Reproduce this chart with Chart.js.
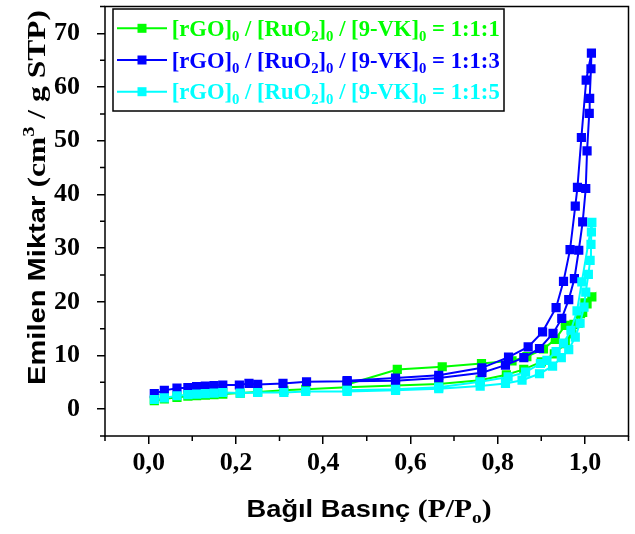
<!DOCTYPE html>
<html>
<head>
<meta charset="utf-8">
<script src="https://cdn.jsdelivr.net/npm/chart.js@4/dist/chart.umd.min.js"></script>
<style>
html,body{margin:0;padding:0;background:#fff;}
#wrap{width:635px;height:534px;position:relative;}
</style>
</head>
<body>
<div id="wrap"><canvas id="c" width="635" height="534"></canvas></div>
<script>
// ---- Data ----
// Series 1:1:1 (green)
const p111 = [0.013,0.036,0.065,0.09,0.11,0.13,0.15,0.17,0.21,0.25,0.31,0.36,0.455,0.566,0.665,0.76,0.82,0.86,0.9,0.93,0.955,0.97,0.985,0.995,1.005,1.016,
              1.0,0.99,0.975,0.955,0.932,0.905,0.867,0.833,0.763,0.673,0.57,0.455];
const v111 = [1.6,1.9,2.2,2.4,2.5,2.6,2.7,2.8,3.0,3.2,3.5,3.7,4.1,4.4,4.7,5.4,6.4,7.4,8.8,10.3,12.2,14.0,16.0,18.0,19.6,20.9,
              19.8,17.8,15.8,15.6,13.0,11.2,9.8,9.0,8.5,7.9,7.4,4.6];
// Series 1:1:3 (blue)
const p113 = [0.013,0.036,0.065,0.09,0.11,0.13,0.15,0.17,0.208,0.23,0.25,0.308,0.362,0.455,0.566,0.665,0.764,0.818,0.86,0.896,0.927,0.947,0.963,0.976,0.986,0.995,1.002,1.005,1.010,1.011,1.014,1.015,
              1.003,0.992,0.983,0.978,0.966,0.951,0.934,0.903,0.870,0.825,0.764,0.665,0.566,0.455];
const v113 = [2.9,3.5,3.9,4.0,4.2,4.3,4.4,4.5,4.5,4.8,4.6,4.8,5.1,5.2,5.3,5.8,6.8,8.2,9.6,11.3,14.1,16.9,20.4,24.3,29.6,34.9,41.1,48.1,55.1,57.9,63.4,66.3,
              61.3,50.6,41.3,37.8,29.7,23.8,18.9,14.4,11.6,9.7,7.7,6.3,5.8,5.3];
// Series 1:1:5 (cyan)
const p115 = [0.013,0.036,0.065,0.09,0.11,0.13,0.15,0.17,0.21,0.25,0.31,0.36,0.455,0.566,0.665,0.76,0.818,0.856,0.896,0.926,0.946,0.963,0.978,0.989,0.998,1.002,1.008,1.012,1.014,1.015,1.016,
              0.993,0.982,0.968,0.951,0.934,0.913,0.898,0.864,0.824,0.76,0.665,0.566,0.455];
const v115 = [1.8,2.1,2.5,2.7,2.8,2.9,3.0,3.1,3.0,3.1,3.1,3.3,3.3,3.5,3.8,4.3,4.8,5.4,6.6,8.0,9.6,11.1,13.4,16.0,19.0,21.8,25.1,27.7,30.7,33.0,34.8,
              23.7,18.3,14.7,12.3,10.7,9.1,8.5,6.9,6.0,5.1,4.1,3.7,3.5];

const xTicks = [0,0.2,0.4,0.6,0.8,1.0];
const yTicks = [0,10,20,30,40,50,60,70];
const xMinor = [-0.1,0.1,0.3,0.5,0.7,0.9,1.1];
const yMinor = [-5,5,15,25,35,45,55,65,75];
const seriesRatios = ['1:1:1','1:1:3','1:1:5'];
const seriesColors = ['#00ff00','#0000ff','#00ffff'];

const SERIF = '"Liberation Serif","Times New Roman",serif';
const SANS = '"Liberation Sans",Arial,sans-serif';

function pts(xs, ys){ return xs.map((x,i)=>({x:x, y:ys[i]})); }

function drawRich(ctx, parts, startX, baseline, targetW, align){
  let total = 0;
  const ws = parts.map(p=>{ ctx.font = p.font; const w = ctx.measureText(p.t).width; total += w; return w; });
  const s = targetW ? targetW/total : 1;
  const W = total*s;
  let x0 = align==='center' ? startX - W/2 : startX;
  ctx.save();
  ctx.translate(x0, baseline);
  ctx.scale(s,1);
  ctx.textBaseline = 'alphabetic';
  ctx.textAlign = 'left';
  let x = 0;
  parts.forEach((p,i)=>{
    ctx.font = p.font; ctx.fillStyle = p.color || '#000';
    ctx.fillText(p.t, x, p.dy||0);
    x += ws[i];
  });
  ctx.restore();
}

const decor = {
  id:'decor',
  afterDraw(chart){
    const ctx = chart.ctx, a = chart.chartArea;
    const xs = chart.scales.x, ys = chart.scales.y;
    ctx.save();
    ctx.strokeStyle = '#000'; ctx.lineWidth = 1.5;
    ctx.strokeRect(a.left, a.top, a.right-a.left, a.bottom-a.top);
    // minor ticks
    ctx.beginPath();
    xMinor.forEach(v=>{ const px = xs.getPixelForValue(v); ctx.moveTo(px, a.bottom); ctx.lineTo(px, a.bottom+5); });
    yMinor.forEach(v=>{ const py = ys.getPixelForValue(v); ctx.moveTo(a.left, py); ctx.lineTo(a.left-5, py); });
    ctx.stroke();

    // legend
    ctx.fillStyle = '#fff';
    ctx.fillRect(113, 9, 391, 102);
    ctx.lineWidth = 1.5; ctx.strokeStyle = '#000';
    ctx.strokeRect(113, 9, 391, 102);
    const rows = [28.3, 60, 91.7];
    seriesRatios.forEach((r,i)=>{
      const y = rows[i], col = seriesColors[i];
      ctx.strokeStyle = col; ctx.lineWidth = 2;
      ctx.beginPath(); ctx.moveTo(117,y); ctx.lineTo(167,y); ctx.stroke();
      ctx.fillStyle = col; ctx.fillRect(142-4.5, y-4.5, 9, 9);
      const f = 'bold 23px '+SERIF, fs = 'bold 15px '+SERIF;
      drawRich(ctx, [
        {t:'[rGO]', font:f, color:col},
        {t:'0', font:fs, color:col, dy:5},
        {t:' / [RuO', font:f, color:col},
        {t:'2', font:fs, color:col, dy:5},
        {t:']', font:f, color:col},
        {t:'0', font:fs, color:col, dy:5},
        {t:' / [9-VK]', font:f, color:col},
        {t:'0', font:fs, color:col, dy:5},
        {t:' = '+r, font:f, color:col}
      ], 171.7, y+7.5, 328, 'left');
    });

    // x title
    drawRich(ctx, [
      {t:'Bağıl Basınç ', font:'bold 24px '+SANS},
      {t:'(P/P', font:'bold 26px '+SERIF},
      {t:'o', font:'bold 17px '+SERIF, dy:6},
      {t:')', font:'bold 26px '+SERIF}
    ], 369, 517, 245, 'center');

    // y title
    ctx.save();
    ctx.translate(45, 197.5);
    ctx.rotate(-Math.PI/2);
    drawRich(ctx, [
      {t:'Emilen Miktar ', font:'bold 24px '+SANS},
      {t:'(cm', font:'bold 26px '+SERIF},
      {t:'3', font:'bold 17px '+SERIF, dy:-11},
      {t:' / g STP)', font:'bold 26px '+SERIF}
    ], 0, 0, 375, 'center');
    ctx.restore();
    ctx.restore();
  }
};

function ds(label, xs, ys, color, order){
  return {
    label: label, data: pts(xs, ys), showLine: true, order: order,
    borderColor: color, backgroundColor: color, borderWidth: 2,
    pointStyle: 'rect', pointRadius: 6.5, pointBorderWidth: 0,
    pointBackgroundColor: color, tension: 0
  };
}

new Chart(document.getElementById('c'), {
  type: 'scatter',
  data: { datasets: [
    ds('[rGO]0 / [RuO2]0 / [9-VK]0 = 1:1:1', p111, v111, seriesColors[0], 2),
    ds('[rGO]0 / [RuO2]0 / [9-VK]0 = 1:1:3', p113, v113, seriesColors[1], 1),
    ds('[rGO]0 / [RuO2]0 / [9-VK]0 = 1:1:5', p115, v115, seriesColors[2], 0)
  ]},
  options: {
    responsive: false, animation: false,
    layout: { padding: { top: 6, right: 5, left: 0, bottom: 0 } },
    plugins: { legend: { display: false }, tooltip: { enabled: false } },
    scales: {
      x: {
        type: 'linear', min: -0.1, max: 1.1,
        afterBuildTicks: s => { s.ticks = xTicks.map(v=>({value:v})); },
        afterFit: s => { s.height = 98; s.paddingLeft = 0; s.paddingRight = 0; s.paddingTop = 0; s.paddingBottom = 0; },
        grid: { display: true, drawOnChartArea: false, drawTicks: true, tickLength: 8, lineWidth: 1.5, color: '#000' },
        border: { display: false },
        ticks: { color: '#000', padding: 4, maxRotation: 0, autoSkip: false,
          font: { family: SERIF, weight: 'bold', size: 26 },
          callback: v => Number(v).toFixed(1).replace('.', ',') }
      },
      y: {
        type: 'linear', min: -5, max: 75,
        afterBuildTicks: s => { s.ticks = yTicks.map(v=>({value:v})); },
        afterFit: s => { s.width = 105; s.paddingTop = 0; s.paddingBottom = 0; s.paddingLeft = 0; s.paddingRight = 0; },
        grid: { display: true, drawOnChartArea: false, drawTicks: true, tickLength: 8, lineWidth: 1.5, color: '#000' },
        border: { display: false },
        ticks: { color: '#000', padding: 17, autoSkip: false,
          font: { family: SERIF, weight: 'bold', size: 26 },
          callback: v => String(v) }
      }
    }
  },
  plugins: [decor]
});
</script>
</body>
</html>
